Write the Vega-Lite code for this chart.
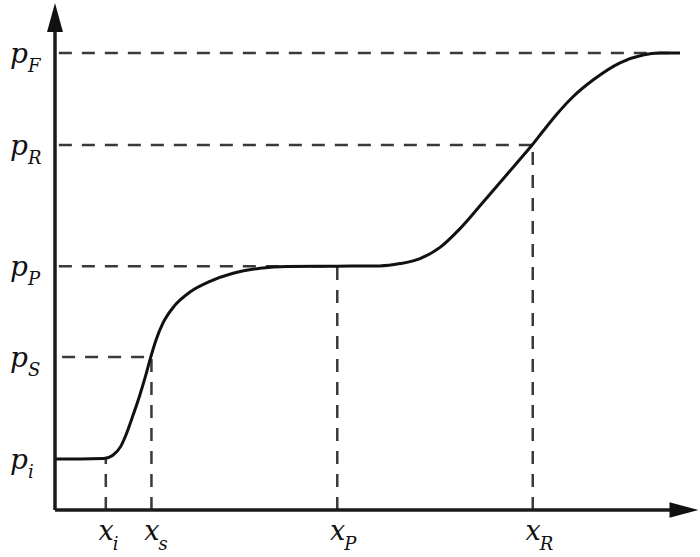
{
  "$schema": "https://vega.github.io/schema/vega-lite/v6.json",
  "width": 643,
  "height": 507,
  "autosize": {"type": "none"},
  "padding": {"left": 55, "top": 3, "right": 2, "bottom": 47},
  "background": "white",
  "config": {"view": {"stroke": null}},
  "datasets": {
    "curve": [
      {"x": 0, "y": 10.06},
      {"x": 3.9, "y": 10.06},
      {"x": 7.6, "y": 10.15},
      {"x": 9.0, "y": 10.8},
      {"x": 10.2, "y": 12.5},
      {"x": 11.0, "y": 14.7},
      {"x": 12.0, "y": 18.2},
      {"x": 13.1, "y": 22.3},
      {"x": 14.1, "y": 26.5},
      {"x": 14.9, "y": 30.2},
      {"x": 15.7, "y": 33.5},
      {"x": 16.8, "y": 36.9},
      {"x": 18.6, "y": 40.3},
      {"x": 21.0, "y": 43.0},
      {"x": 24.1, "y": 45.1},
      {"x": 27.7, "y": 46.7},
      {"x": 31.9, "y": 47.7},
      {"x": 36.1, "y": 48.05},
      {"x": 43.9, "y": 48.1},
      {"x": 50.5, "y": 48.15},
      {"x": 53.65, "y": 48.6},
      {"x": 56.77, "y": 49.6},
      {"x": 59.88, "y": 51.8},
      {"x": 62.99, "y": 55.5},
      {"x": 66.1, "y": 60.0},
      {"x": 69.21, "y": 64.6},
      {"x": 71.85, "y": 68.5},
      {"x": 74.2, "y": 72.0},
      {"x": 75.89, "y": 74.7},
      {"x": 78.07, "y": 78.1},
      {"x": 80.56, "y": 81.5},
      {"x": 83.67, "y": 84.8},
      {"x": 87.87, "y": 88.2},
      {"x": 91.45, "y": 89.75},
      {"x": 94.09, "y": 90.12},
      {"x": 97.2, "y": 90.14}
    ],
    "hlines": [
      {"label": "pF", "x0": 0.6, "x1": 97.2, "y": 90.14},
      {"label": "pR", "x0": 0.6, "x1": 74.2, "y": 72.0},
      {"label": "pP", "x0": 0.6, "x1": 43.9, "y": 48.1},
      {"label": "pS", "x0": 1.1, "x1": 14.9, "y": 30.2}
    ],
    "vlines": [
      {"label": "xi", "x": 7.9, "y0": 0, "y1": 10.06},
      {"label": "xs", "x": 15.0, "y0": 0, "y1": 30.2},
      {"label": "xP", "x": 43.9, "y0": 0, "y1": 48.1},
      {"label": "xR", "x": 74.3, "y0": 0, "y1": 72.0}
    ],
    "axes": [
      {"name": "vertical", "x0": 0, "y0": 0, "x1": 0, "y1": 95},
      {"name": "horizontal", "x0": 0, "y0": 0, "x1": 96.5, "y1": 0}
    ],
    "arrowUp": [{"x": 0, "y": 97.14}],
    "arrowRight": [{"x": 97.82, "y": 0}],
    "ylabels": [
      {"main": "p", "sub": "F", "y": 90.14},
      {"main": "p", "sub": "R", "y": 72.0},
      {"main": "p", "sub": "P", "y": 48.1},
      {"main": "p", "sub": "S", "y": 30.2},
      {"main": "p", "sub": "i", "y": 10.06}
    ],
    "xlabels": [
      {"main": "x", "sub": "i", "x": 7.9},
      {"main": "x", "sub": "s", "x": 15.0},
      {"main": "x", "sub": "P", "x": 43.9},
      {"main": "x", "sub": "R", "x": 74.3}
    ]
  },
  "layer": [
    {
      "data": {"name": "hlines"},
      "mark": {"type": "rule", "color": "#3a3a3a", "strokeWidth": 2.5, "strokeDash": [13, 10]},
      "encoding": {
        "x": {"field": "x0", "type": "quantitative", "scale": {"domain": [0, 100], "nice": false, "zero": false}, "axis": null},
        "x2": {"field": "x1"},
        "y": {"field": "y", "type": "quantitative", "scale": {"domain": [0, 100], "nice": false, "zero": false}, "axis": null}
      }
    },
    {
      "data": {"name": "vlines"},
      "mark": {"type": "rule", "color": "#3a3a3a", "strokeWidth": 2.5, "strokeDash": [13, 10]},
      "encoding": {
        "x": {"field": "x", "type": "quantitative"},
        "y": {"field": "y0", "type": "quantitative"},
        "y2": {"field": "y1"}
      }
    },
    {
      "data": {"name": "curve"},
      "mark": {"type": "line", "color": "#111111", "strokeWidth": 3, "interpolate": "monotone"},
      "encoding": {
        "x": {"field": "x", "type": "quantitative"},
        "y": {"field": "y", "type": "quantitative"}
      }
    },
    {
      "data": {"name": "axes"},
      "mark": {"type": "rule", "color": "#1a1a1a", "strokeWidth": 3.5},
      "encoding": {
        "x": {"field": "x0", "type": "quantitative"},
        "x2": {"field": "x1"},
        "y": {"field": "y0", "type": "quantitative"},
        "y2": {"field": "y1"}
      }
    },
    {
      "data": {"name": "arrowUp"},
      "mark": {"type": "point", "filled": true, "opacity": 1, "color": "#111111", "size": 841, "shape": "M0,-1L0.55,1L-0.55,1Z"},
      "encoding": {
        "x": {"field": "x", "type": "quantitative"},
        "y": {"field": "y", "type": "quantitative"}
      }
    },
    {
      "data": {"name": "arrowRight"},
      "mark": {"type": "point", "filled": true, "opacity": 1, "color": "#111111", "size": 841, "shape": "M1,0L-1,-0.53L-1,0.53Z"},
      "encoding": {
        "x": {"field": "x", "type": "quantitative"},
        "y": {"field": "y", "type": "quantitative"}
      }
    },
    {
      "data": {"name": "ylabels"},
      "mark": {"type": "text", "align": "right", "baseline": "alphabetic", "dx": -27, "dy": 10, "font": "DejaVu Serif", "fontStyle": "italic", "fontSize": 28, "color": "#111111"},
      "encoding": {
        "x": {"datum": 0, "type": "quantitative"},
        "y": {"field": "y", "type": "quantitative"},
        "text": {"field": "main"}
      }
    },
    {
      "data": {"name": "ylabels"},
      "mark": {"type": "text", "align": "left", "baseline": "alphabetic", "dx": -27, "dy": 19, "font": "DejaVu Serif", "fontStyle": "italic", "fontSize": 18, "color": "#111111"},
      "encoding": {
        "x": {"datum": 0, "type": "quantitative"},
        "y": {"field": "y", "type": "quantitative"},
        "text": {"field": "sub"}
      }
    },
    {
      "data": {"name": "xlabels"},
      "mark": {"type": "text", "align": "right", "baseline": "alphabetic", "dx": 8, "dy": 30, "font": "DejaVu Serif", "fontStyle": "italic", "fontSize": 27, "color": "#111111"},
      "encoding": {
        "x": {"field": "x", "type": "quantitative"},
        "y": {"datum": 0, "type": "quantitative"},
        "text": {"field": "main"}
      }
    },
    {
      "data": {"name": "xlabels"},
      "mark": {"type": "text", "align": "left", "baseline": "alphabetic", "dx": 7, "dy": 40, "font": "DejaVu Serif", "fontStyle": "italic", "fontSize": 18, "color": "#111111"},
      "encoding": {
        "x": {"field": "x", "type": "quantitative"},
        "y": {"datum": 0, "type": "quantitative"},
        "text": {"field": "sub"}
      }
    }
  ]
}
